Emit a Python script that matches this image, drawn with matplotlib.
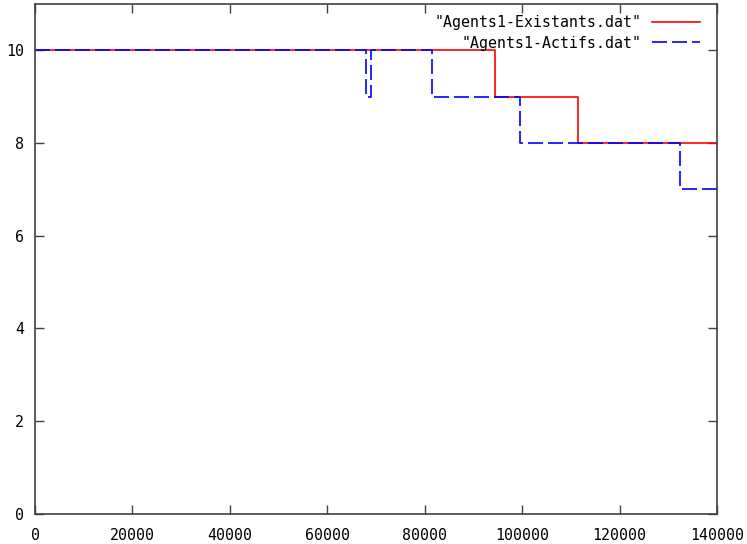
import matplotlib
matplotlib.use("Agg")
import matplotlib.pyplot as plt

# step data (gnuplot "with steps")
existants_t = [0, 94400, 111500, 140000]
existants_n = [10, 9, 8, 8]

actifs_t = [0, 67900, 69000, 81400, 99600, 132400, 140000]
actifs_n = [10, 9, 10, 9, 8, 7, 7]

xticks = [0, 20000, 40000, 60000, 80000, 100000, 120000, 140000]
yticks = [0, 2, 4, 6, 8, 10]

plt.rcParams["font.family"] = "DejaVu Sans Mono"
plt.rcParams["font.size"] = 10.7

fig = plt.figure(figsize=(7.47, 5.44), dpi=100)
ax = fig.add_axes([35 / 747, 1 - 513.7 / 544, 682 / 747, 509.7 / 544])

ax.step(existants_t, existants_n, where="post", color="#ff0000", lw=1.2,
        label='"Agents1-Existants.dat"')
ax.step(actifs_t, actifs_n, where="post", color="#0000ff", lw=1.2,
        dashes=(9, 3), label='"Agents1-Actifs.dat"')

ax.set_xlim(0, 140000)
ax.set_ylim(0, 11)
ax.set_xticks(xticks)
ax.set_yticks(yticks)
ax.set_xticklabels([str(v) for v in xticks])
ax.set_yticklabels([str(v) for v in yticks])

ax.tick_params(direction="in", length=6.5, width=1, color="#404040",
               top=True, right=True, pad=8)
ax.tick_params(axis="x", pad=10)
for s in ax.spines.values():
    s.set_color("#404040")
    s.set_linewidth(1.2)

leg = ax.legend(loc="upper right", bbox_to_anchor=(0.975, 0.979),
                markerfirst=False, alignment="right", frameon=False,
                borderpad=0, borderaxespad=0, handlelength=3.2,
                handletextpad=0.75, labelspacing=0.4)

fig.savefig("out.png", dpi=100)
